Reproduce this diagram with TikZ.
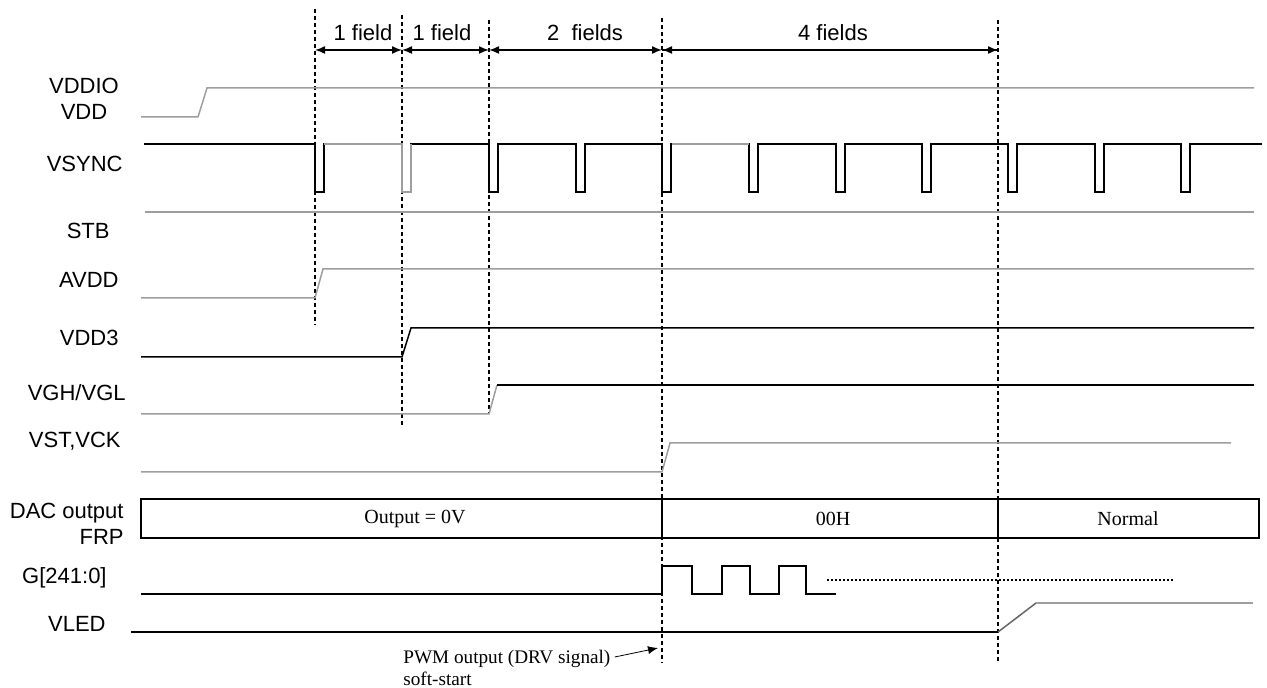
\documentclass[tikz,border=0pt]{standalone}
\usepackage{fontspec}
\setmainfont{Liberation Serif}
\setsansfont{Liberation Sans}
\usetikzlibrary{arrows.meta}

\begin{document}
\begin{tikzpicture}[x=0.5pt,y=-0.5pt,
  lbl/.style={font=\sffamily\fontsize{11}{13}\selectfont,inner sep=0pt},
  val/.style={font=\rmfamily\fontsize{10}{12}\selectfont,inner sep=0pt},
  note/.style={font=\rmfamily\fontsize{9.6}{11}\selectfont,inner sep=0pt},
  hi/.style={line width=0.75pt,black},
  lo/.style={line width=0.75pt,black!38},
  fieldline/.style={dash pattern=on 2pt off 1.5pt,line width=0.55pt},
  span/.style={{Latex[length=5pt,width=4pt]}-{Latex[length=5pt,width=4pt]},line width=0.75pt},
  gdots/.style={dash pattern=on 1pt off 1pt,line width=1pt}]

\useasboundingbox (0,0) rectangle (1267,688);

% field marks
\foreach \x/\t/\b in {315/9/325, 402/15/425, 489/20/414, 662/18/663, 998/20/663}
  \draw[fieldline] (\x,\t) -- (\x,\b);
\foreach \n/\x in {1/315,2/402,3/489,4/662,5/998}
  \coordinate (f\n) at (\x,50);
\draw[span] (f1) -- (f2);
\draw[span] (f2) -- (f3);
\draw[span] (f3) -- (f4);
\draw[-{Latex[length=5pt,width=4pt]},line width=0.75pt] (f4) -- (f5);
\draw[{Latex[length=5pt,width=4pt]}-,line width=0.75pt] (f4) -- (f5);
\node[lbl] (fa) at (363,33) {1 field};
\node[lbl] (fb) at (442,33) {1 field};
\node[lbl] (fc) at (585,33) {2\ \ fields};
\node[lbl] (fd) at (833,33) {4 fields};

% signal names
\node[lbl,align=center] (vdd) at (84,99) {VDDIO\\VDD};
\node[lbl,anchor=east] (vsync) at (123,164) {VSYNC};
\node[lbl,anchor=east] (stb) at (110,231) {STB};
\node[lbl,anchor=east] (avdd) at (119,280) {AVDD};
\node[lbl,anchor=east] (vdd3) at (119,338) {VDD3};
\node[lbl,anchor=east] (vgh) at (126,393) {VGH/VGL};
\node[lbl,anchor=east] (vst) at (121,441) {VST,VCK};
\node[lbl,anchor=east,align=right] (dac) at (124,524) {DAC output\\FRP};
\node[lbl,anchor=east] (gate) at (107,578) {G[241:0]};
\node[lbl,anchor=east] (vled) at (106,624) {VLED};

% waveforms
\draw[lo] (141,117) -- (198,117) -- (207,88) -- (1254,88);
\draw[hi] (144,144) foreach \p in {315,402,489,576,662,749,836,922,1008,1095,1181}
  { -- (\p,144) -- (\p,192) -- ({\p+9},192) -- ({\p+9},144) } -- (1262,144);
\draw[lo] (324,144) -- (402,144) -- (402,192) -- (411,192) -- (411,144);
\draw[lo] (672,144) -- (749,144);
\draw[lo] (145,212) -- (1254,212);
\draw[lo] (141,298) -- (315,298) -- (323,269) -- (1254,269);
\draw[hi] (141,357) -- (402,357) -- (411,328) -- (1254,328);
\draw[lo] (141,414) -- (489,414) -- (497,385);
\draw[hi] (497,385) -- (1254,385);
\draw[lo] (141,472) -- (662,472) -- (670,443) -- (1231,443);

% DAC output
\draw[line width=0.65pt] (141,499) rectangle (1259,538);
\draw[line width=1.2pt] (662,499) -- (662,538);
\draw[line width=0.65pt] (998,499) -- (998,538);
\node[val] (out0) at (415,519) {Output = 0V};
\node[val] (zero) at (833,519) {00H};
\node[val] (norm) at (1128,519) {Normal};

\draw[hi] (141,594) -- (662,594) foreach \a/\b in {662/692,722/750,779/806}
  { -- (\a,594) -- (\a,566) -- (\b,566) -- (\b,594) } -- (836,594);
\draw[gdots] (827,580) -- (1175,580);
\draw[hi] (131,632) -- (998,632);
\draw[line width=0.75pt,black!60] (998,632) -- (1036,603);
\draw[lo] (1036,603) -- (1253,603);

% PWM note
\node[note,anchor=west] (pwm) at (403,659) {PWM output (DRV signal)};
\node[note,anchor=west] (soft) at (403,679) {soft-start};
\coordinate (pwmtip) at (658,648);
\draw[-{Latex[length=5pt,width=4pt]},line width=0.4pt] ([xshift=2pt,yshift=1pt]pwm.east) -- (pwmtip);
\end{tikzpicture}
\end{document}
